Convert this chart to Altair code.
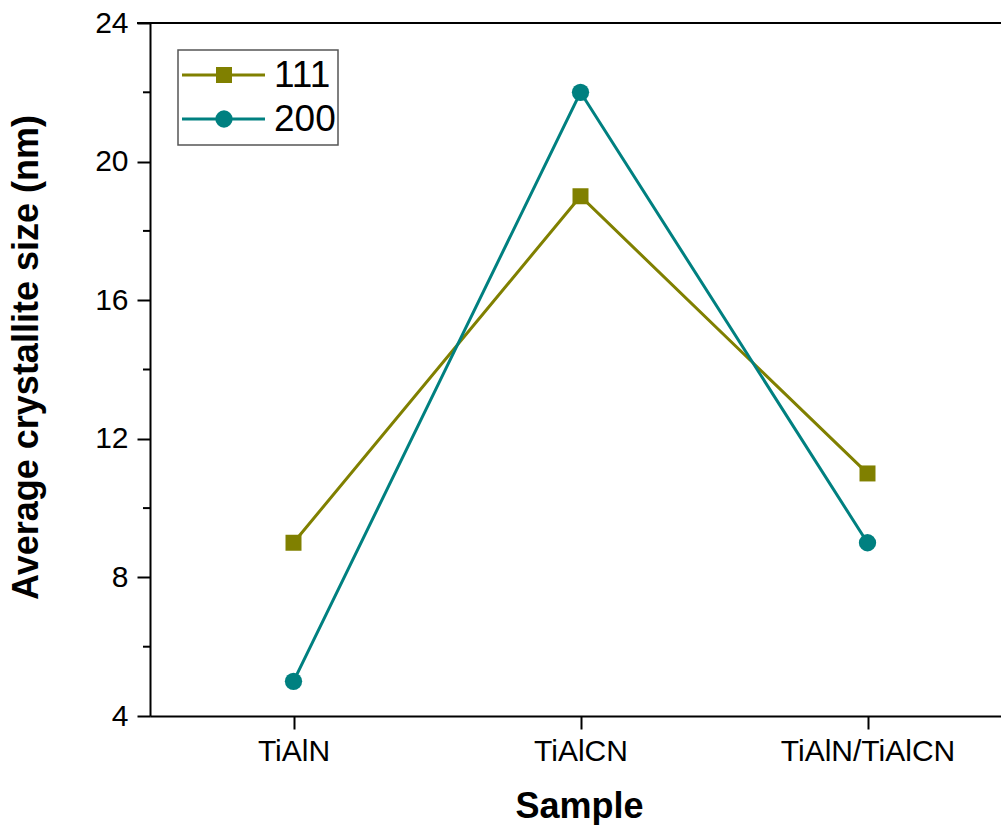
import altair as alt
import pandas as pd

# Samples and average crystallite sizes (nm) for the two reflections
samples = ["TiAlN", "TiAlCN", "TiAlN/TiAlCN"]
size_111 = [9, 19, 11]
size_200 = [5, 22, 9]
series_names = ["111", "200"]
series_colors = ["#808000", "#008080"]

y_ticks = [4, 8, 12, 16, 20, 24]
y_minor = [6, 10, 14, 18, 22]

W, H = 851, 693
x_domain = [0.5, 0.5 + W / 287]

rows = []
for name, vals in zip(series_names, [size_111, size_200]):
    for i, (s, v) in enumerate(zip(samples, vals)):
        rows.append({"idx": i + 1, "sample": s, "size": v, "series": name})
df = pd.DataFrame(rows)

label_expr = " : ".join(
    f"datum.value == {i + 1} ? '{s}'" for i, s in enumerate(samples)
) + " : ''"

FONT = "Liberation Sans"

x_scale = alt.Scale(domain=x_domain, nice=False, zero=False)
y_scale = alt.Scale(domain=[4, 24], nice=False, zero=False)

x_axis = alt.Axis(
    values=[1, 2, 3], labelExpr=label_expr, title="Sample",
    grid=False, domainColor="black", domainWidth=2, tickColor="black",
    tickWidth=2, tickSize=13, labelFont=FONT, labelFontSize=30,
    labelColor="black", labelPadding=7, titleFont=FONT, titleFontSize=36,
    titleFontWeight="bold", titleColor="black", titleBaseline="alphabetic",
    titleY=101, titleX=429, labelFlush=False,
)
y_axis = alt.Axis(
    values=y_ticks, title="Average crystallite size (nm)", grid=False,
    domainColor="black", domainWidth=2, tickColor="black", tickWidth=2,
    tickSize=13, labelFont=FONT, labelFontSize=30, labelColor="black",
    labelPadding=9, titleFont=FONT, titleFontSize=36, titleFontWeight="bold",
    titleColor="black", titleAngle=270, titleBaseline="alphabetic",
    titleX=-113, titleY=334, labelFlush=False,
)

color_scale = alt.Scale(domain=series_names, range=series_colors)

base = alt.Chart(df).encode(
    x=alt.X("idx:Q", scale=x_scale, axis=x_axis),
    y=alt.Y("size:Q", scale=y_scale, axis=y_axis),
    color=alt.Color("series:N", scale=color_scale, legend=None),
)

lines = base.mark_line(strokeWidth=3)
squares = base.transform_filter(alt.datum.series == "111").mark_point(
    shape="square", filled=True, size=256, opacity=1
)
circles = base.transform_filter(alt.datum.series == "200").mark_point(
    shape="circle", filled=True, size=300, opacity=1
)

# minor ticks on the y axis
minor = alt.Chart(pd.DataFrame({"v": y_minor})).mark_rule(
    color="black", strokeWidth=2
).encode(y=alt.Y("v:Q", scale=y_scale), x=alt.value(-7), x2=alt.value(0))

# top frame line
top = alt.Chart(pd.DataFrame({"a": [0]})).mark_rule(
    color="black", strokeWidth=2
).encode(y=alt.value(0), x=alt.value(-13), x2=alt.value(W))

# legend box
one = pd.DataFrame({"a": [0]})
box = alt.Chart(one).mark_rect(
    fill="white", stroke="#555555", strokeWidth=1.5
).encode(x=alt.value(28), x2=alt.value(188), y=alt.value(27), y2=alt.value(122))

legend_layers = [box]
for k, (name, col, shape, sz) in enumerate(
    zip(series_names, series_colors, ["square", "circle"], [256, 300])
):
    yy = 52 + 44 * k
    legend_layers.append(
        alt.Chart(one).mark_rule(color=col, strokeWidth=3).encode(
            x=alt.value(32), x2=alt.value(115), y=alt.value(yy)
        )
    )
    legend_layers.append(
        alt.Chart(one).mark_point(
            shape=shape, filled=True, size=sz, color=col, opacity=1
        ).encode(x=alt.value(74), y=alt.value(yy))
    )
    legend_layers.append(
        alt.Chart(one).mark_text(
            text=name, font=FONT, fontSize=37, align="left",
            baseline="middle", color="black"
        ).encode(x=alt.value(124), y=alt.value(yy + 1))
    )

chart = alt.layer(
    lines, squares, circles, minor, top, *legend_layers
).properties(
    width=W, height=H,
    autosize=alt.AutoSizeParams(type="none"),
    padding={"left": 150, "top": 23, "right": 0, "bottom": 109},
    background="white",
).configure_view(stroke=None)

chart.save("out.html", embed_options={"renderer": "svg", "actions": False})
